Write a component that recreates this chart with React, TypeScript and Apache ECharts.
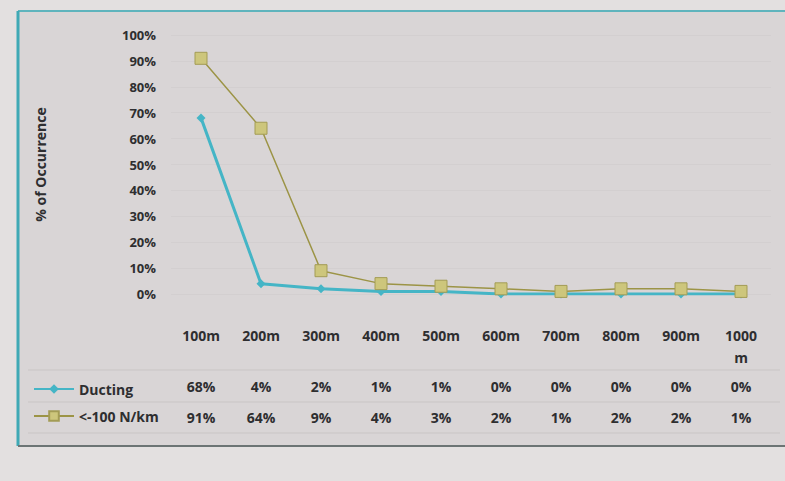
import React, { useEffect, useRef } from "react";
import * as echarts from "echarts";

const heights = ["100m", "200m", "300m", "400m", "500m", "600m", "700m", "800m", "900m", "1000m"];
const ducting = [68, 4, 2, 1, 1, 0, 0, 0, 0, 0];
const refractivity = [91, 64, 9, 4, 3, 2, 1, 2, 2, 1];
const seriesNames = ["Ducting", "<-100 N/km"];
const yAxisTitle = "% of Occurrence";

const FONT = "'Open Sans', 'Noto Sans', sans-serif";
const TXT = "#2e2e30";

export default function App() {
  const ref = useRef<HTMLDivElement>(null);
  useEffect(() => {
    document.body.style.margin = "0";
    const chart = echarts.init(ref.current!, null, { renderer: "svg" });
    const bottomLabel = {
      fontFamily: FONT,
      fontWeight: "bold" as const,
      fontSize: 14,
      color: TXT,
    };
    const tableAxis = (values: number[], offset: number) => ({
      type: "category" as const,
      position: "bottom" as const,
      data: heights,
      offset,
      axisLine: { show: false },
      axisTick: { show: false },
      splitLine: { show: false },
      axisLabel: {
        ...bottomLabel,
        interval: 0,
        margin: 32,
        formatter: (_v: string, i: number) => values[i] + "%",
      },
    });
    chart.setOption({
      animation: false,
      backgroundColor: "#e3e0e0",
      graphic: [
        { type: "rect", shape: { x: 18, y: 12, width: 800, height: 434 }, style: { fill: "#d9d5d6" }, z: -10 },
        { type: "line", shape: { x1: 18, y1: 11, x2: 785, y2: 11 }, style: { stroke: "#5fb4bd", lineWidth: 2 } },
        { type: "line", shape: { x1: 18, y1: 11, x2: 18, y2: 446 }, style: { stroke: "#3fa9b5", lineWidth: 3 } },
        { type: "line", shape: { x1: 18, y1: 446, x2: 785, y2: 446 }, style: { stroke: "#6c7474", lineWidth: 2 } },
        { type: "line", shape: { x1: 28, y1: 370, x2: 780, y2: 370 }, style: { stroke: "#c9c5c5", lineWidth: 1 } },
        { type: "line", shape: { x1: 28, y1: 402, x2: 780, y2: 402 }, style: { stroke: "#c9c5c5", lineWidth: 1 } },
        { type: "line", shape: { x1: 28, y1: 433, x2: 780, y2: 433 }, style: { stroke: "#c9c5c5", lineWidth: 1 } },
      ],
      grid: { left: 171, right: 14, top: 35, bottom: 187 },
      legend: {
        orient: "vertical",
        left: 28,
        top: 377,
        itemGap: 13,
        itemWidth: 40,
        itemHeight: 12,
        data: seriesNames,
        textStyle: { fontFamily: FONT, fontWeight: "bold", fontSize: 14, color: TXT },
      },
      xAxis: [
        {
          type: "category",
          data: heights,
          axisLine: { show: false },
          axisTick: { show: false },
          splitLine: { show: false },
          axisLabel: {
            ...bottomLabel,
            fontSize: 14,
            interval: 0,
            margin: 30,
            width: 42,
            overflow: "breakAll",
            lineHeight: 22,
          },
        },
        tableAxis(ducting, 53),
        tableAxis(refractivity, 84),
      ],
      yAxis: {
        type: "value",
        min: 0,
        max: 100,
        interval: 10,
        name: yAxisTitle,
        nameLocation: "middle",
        nameGap: 124,
        nameTextStyle: { fontFamily: FONT, fontWeight: "bold", fontSize: 14, color: TXT },
        axisLine: { show: false },
        axisTick: { show: false },
        splitLine: { show: true, lineStyle: { color: "#d3cfd0" } },
        axisLabel: {
          fontFamily: FONT,
          fontWeight: "bold",
          fontSize: 13,
          color: TXT,
          margin: 15,
          formatter: (v: number) => v + "%",
        },
      },
      series: [
        {
          name: seriesNames[0],
          type: "line",
          data: ducting,
          symbol: "diamond",
          symbolSize: 9,
          lineStyle: { color: "#45b5c6", width: 3 },
          itemStyle: { color: "#45b5c6" },
        },
        {
          name: seriesNames[1],
          type: "line",
          data: refractivity,
          symbol: "rect",
          symbolSize: 12,
          lineStyle: { color: "#9c9446", width: 1.5 },
          itemStyle: { color: "#cdc67c", borderColor: "#a39c55", borderWidth: 1 },
        },
      ],
    });
    return () => chart.dispose();
  }, []);
  return <div ref={ref} style={{ width: 785, height: 481 }} />;
}
